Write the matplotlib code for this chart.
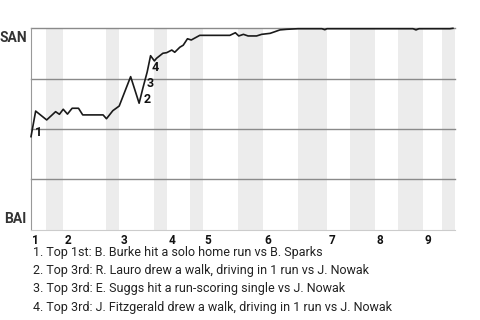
import matplotlib
matplotlib.use('Agg')
import matplotlib.pyplot as plt

plt.rcParams['font.family'] = ['Roboto', 'DejaVu Sans']

# game events (x = event number along the game) and SAN win probability
event_x = [0, 1.1, 3.7, 5.8, 6.7, 7.6, 8.6, 9.7, 11.2, 12.2, 17.0, 17.8, 19.3,
           20.8, 23.5, 25.5, 26.4, 27.4, 28.2, 29.1, 29.6, 31.1, 32.0, 33.2,
           33.9, 35.1, 35.9, 36.9, 37.8, 39.8, 46.9, 48.2, 49.0, 50.1, 51.2,
           53.2, 54.4, 56.4, 57.5, 58.7, 60.3, 63.0, 68.6, 69.3, 69.8, 90.1,
           90.8, 91.5, 98.8, 99.5]
win_prob = [0.462, 0.589, 0.545, 0.586, 0.573, 0.598, 0.574, 0.603, 0.603,
            0.570, 0.570, 0.551, 0.591, 0.614, 0.760, 0.628, 0.704, 0.783,
            0.864, 0.838, 0.851, 0.876, 0.879, 0.892, 0.881, 0.906, 0.916,
            0.948, 0.942, 0.965, 0.965, 0.978, 0.962, 0.970, 0.962, 0.962,
            0.970, 0.975, 0.983, 0.992, 0.995, 0.998, 0.998, 0.993, 0.998,
            0.998, 0.992, 0.998, 0.998, 1.0]

# start of each half inning (top 1st, bottom 1st, top 2nd, ...)
half_starts = [0, 3.5, 7.5, 17.7, 20.8, 29.0, 32.1, 37.5, 40.6, 48.8, 54.7,
               63.0, 69.8, 75.2, 81.1, 86.6, 92.5, 96.9]
game_end = 100

# key events: index into event_x / win_prob
key_idx = [0, 15, 16, 17]
key_notes = [
    "1. Top 1st: B. Burke hit a solo home run vs B. Sparks",
    "2. Top 3rd: R. Lauro drew a walk, driving in 1 run vs J. Nowak",
    "3. Top 3rd: E. Suggs hit a run-scoring single vs J. Nowak",
    "4. Top 3rd: J. Fitzgerald drew a walk, driving in 1 run vs J. Nowak",
]

fig = plt.figure(figsize=(4.8, 3.2), dpi=100)
ax = fig.add_axes([31 / 480, 90.3 / 320, 424 / 480, 201.4 / 320])
ax.set_xlim(0, game_end)
ax.set_ylim(0, 1)

# shade bottom halves
bounds = half_starts + [game_end]
for i in range(1, len(half_starts), 2):
    ax.axvspan(bounds[i], bounds[i + 1], color='#ececec', lw=0, zorder=0)

for g in [0.25, 0.5, 0.75, 1.0]:
    ax.axhline(g, color='#8a8a8a', lw=1, zorder=1, clip_on=False)

for s in ['top', 'right']:
    ax.spines[s].set_visible(False)
ax.spines['left'].set_color('#999999')
ax.spines['bottom'].set_color('#cccccc')
ax.set_xticks([])
ax.set_yticks([])

ax.plot(event_x, win_prob, color='#1a1a1a', lw=1.2, zorder=3, clip_on=False)

for n, i in enumerate(key_idx):
    ax.annotate(str(n + 1), (event_x[i], win_prob[i]), xytext=(3, 3),
                textcoords='offset points', ha='left', va='center',
                fontsize=9, fontweight='bold', color='#111111', zorder=4)

# inning numbers
for k in range(0, len(half_starts), 2):
    ax.annotate(str(k // 2 + 1), (half_starts[k], 0),
                xycoords=('data', 'axes fraction'), xytext=(1, -3),
                textcoords='offset points', ha='left', va='top',
                fontsize=8.5, fontweight='bold', color='#111111')

ax.annotate('SAN', (0, 1), xycoords='axes fraction', xytext=(-3, -2),
            textcoords='offset points', ha='right', va='top',
            fontsize=10, fontweight='bold', color='#333333')
ax.annotate('BAI', (0, 0), xycoords='axes fraction', xytext=(-3, 3),
            textcoords='offset points', ha='right', va='bottom',
            fontsize=10, fontweight='bold', color='#333333')

for n, note in enumerate(key_notes):
    fig.text(33 / 480, (320 - 256 - n * 18.2) / 320, note, ha='left',
             va='baseline', fontsize=9, color='#222222')

fig.savefig('out.png', dpi=100)
